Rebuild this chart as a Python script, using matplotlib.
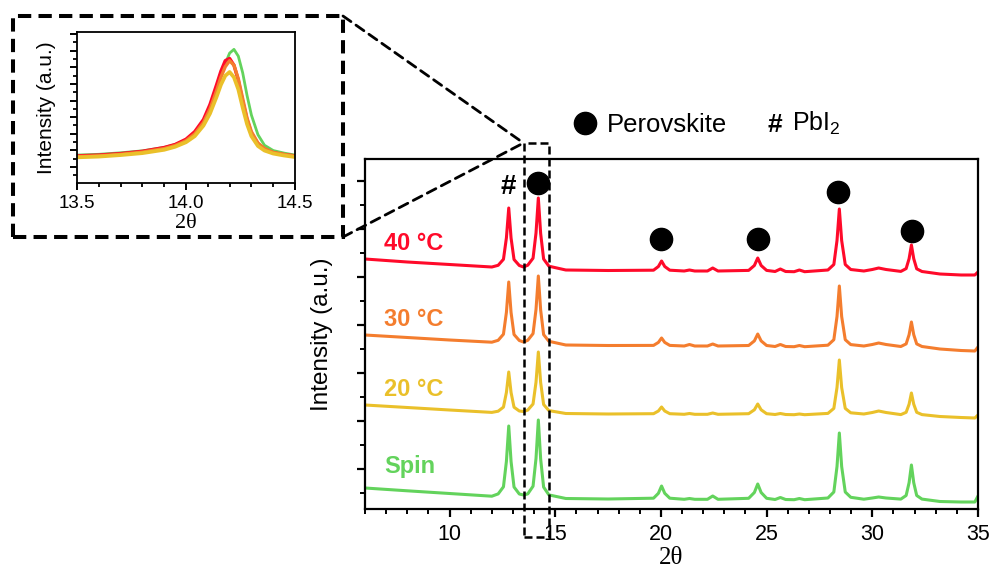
import numpy as np
import matplotlib.pyplot as plt
from matplotlib.patches import Rectangle, ConnectionPatch
from matplotlib.lines import Line2D
from matplotlib.ticker import MultipleLocator, FixedLocator

plt.rcParams['font.family'] = ['Liberation Sans', 'DejaVu Sans']
plt.rcParams['mathtext.fontset'] = 'custom'
plt.rcParams['mathtext.rm'] = 'Liberation Sans'
plt.rcParams['mathtext.it'] = 'Liberation Sans'

# ── données ────────────────────────────────────────────────
two_theta = [6.0, 8.0, 10.0, 12.0,
             12.30, 12.55, 12.69, 12.80, 12.91, 13.05, 13.30, 13.50,
             13.70, 13.95, 14.09, 14.20, 14.31, 14.45, 14.70,
             15.5, 17.5,
             19.65, 19.88, 20.03, 20.18, 20.42,
             21.1, 21.35, 21.6, 22.2, 22.45, 22.7,
             24.15, 24.42, 24.58, 24.74, 25.0,
             25.4, 25.65, 25.9, 26.3, 26.55, 26.8,
             27.9, 28.18, 28.33, 28.44, 28.55, 28.72, 28.98,
             29.6, 30.0, 30.3, 30.65,
             31.35, 31.60, 31.74, 31.85, 31.96, 32.10, 32.35,
             33.2, 34.2, 34.85, 35.0]

i_40 = [13, 10, 7.5, 5,
        6.7, 12.7, 34.2, 64, 34, 12.5, 6.5, 5,
        6.8, 13.8, 39, 74, 38.5, 13, 5.8,
        2, 1.5,
        1.8, 5.5, 11, 5.5, 1.8,
        1, 2, 1, 1, 4, 1,
        1.6, 6.5, 14, 6.5, 1.6,
        0.5, 3, 0.5, 0.3, 2, 0.3,
        2, 7.5, 31.5, 63, 31.5, 7.5, 2.5,
        1, 2.5, 4, 2.5,
        0.6, 3.4, 13.3, 27, 13.3, 3.2, 0.5,
        -2, -3, -3, 0]

i_30 = [12, 9.5, 7, 4.8,
        6.7, 12.8, 34.7, 65, 34.5, 12.5, 6.5, 5,
        6.7, 13.4, 37.5, 71, 37, 12.4, 5.7,
        2, 1.5,
        1.6, 4.6, 9, 4.6, 1.6,
        1, 2.5, 1, 1, 3, 1,
        1.5, 6.1, 13, 6.1, 1.5,
        0.5, 2.5, 0.5, 0.3, 1.5, 0.3,
        1.8, 7.3, 30.5, 61, 30.5, 7.3, 2.4,
        1, 2.5, 4, 2.5,
        0.5, 3.1, 12.3, 25, 12.3, 3.1, 0.5,
        -2, -3.5, -4, 0]

i_20 = [10, 7.5, 5, 2.6,
        3.8, 7.9, 22.6, 43, 22.5, 7.8, 4, 3.5,
        4.9, 11, 32.8, 63, 32.5, 10.5, 4.4,
        1.5, 1,
        1.3, 4, 8, 4, 1.3,
        0.7, 1.5, 0.7, 0.7, 2, 0.7,
        1.3, 5.2, 11, 5.2, 1.3,
        0.5, 1.5, 0.5, 0.3, 1, 0.3,
        1.6, 6.6, 27.5, 55, 27.5, 6.6, 2.2,
        1, 2.5, 4, 2.5,
        0.4, 2.7, 10.8, 22, 10.8, 2.7, 0.4,
        -1.5, -2.5, -3, 0]

i_spin = [12, 9.2, 6.5, 3.8,
          6.1, 13.2, 38.7, 74, 38.5, 13, 6, 5,
          6.1, 13.8, 41.5, 80, 41, 12.9, 5.1,
          1.5, 1,
          1.8, 6.7, 14, 6.7, 1.8,
          0.7, 1.5, 0.7, 0.7, 4, 0.7,
          1.7, 7.5, 16, 7.5, 1.7,
          0.5, 2.5, 0.5, 0.3, 1.5, 0.3,
          2, 8, 33.5, 67, 33.5, 8, 2.7,
          0.8, 2, 3, 2,
          0.9, 4.5, 17.3, 35, 17.3, 4.5, 0.9,
          -1.5, -2, -2, 4]

labels  = ['40 °C', '30 °C', '20 °C', 'Spin']
colors  = ['#ff0a2a', '#f47d2e', '#eac02a', '#63d35c']
offsets = [237, 162, 94, 9]
series  = [i_40, i_30, i_20, i_spin]

# pics pérovskite / PbI2
perov_x = [14.2, 20.0, 24.6, 28.4, 31.9]
perov_y = [326, 270, 270, 317, 278]
pbi2_x, pbi2_y = 12.77, 322

# zoom (encart)
tt_zoom = [13.5, 13.6, 13.7, 13.8, 13.9, 13.95, 14.0, 14.04, 14.08, 14.11,
           14.14, 14.16, 14.18, 14.2, 14.22, 14.24, 14.26, 14.28, 14.3,
           14.33, 14.36, 14.4, 14.45, 14.5]
z_40   = [.18, .185, .195, .21, .235, .255, .29, .34, .42, .52, .65, .74,
          .81, .825, .78, .68, .54, .42, .33, .26, .225, .20, .188, .18]
z_30   = [.175, .18, .19, .205, .228, .248, .28, .325, .40, .49, .61, .70,
          .77, .81, .78, .69, .56, .43, .34, .265, .228, .203, .19, .178]
z_20   = [.17, .175, .185, .198, .22, .24, .27, .31, .38, .46, .57, .65,
          .71, .735, .70, .62, .50, .39, .31, .245, .215, .195, .182, .172]
z_spin = [.185, .19, .20, .213, .236, .255, .285, .33, .40, .49, .61, .70,
          .79, .86, .885, .84, .73, .58, .45, .32, .25, .215, .198, .185]

# ── figure ────────────────────────────────────────────────
fig = plt.figure(figsize=(9.9, 5.67), dpi=100)
ax = fig.add_axes([365/990, 1 - 509/567, 613/990, 350/567])

for s, off, c in zip(series, offsets, colors):
    ax.plot(two_theta, np.array(s) + off, color=c, lw=2.2,
            solid_joinstyle='round', solid_capstyle='round')

lab_y = [265, 190, 120, 43]
for lab, c, ly in zip(labels, colors, lab_y):
    ax.text(6.9, ly, lab, color=c, fontsize=17, fontweight='bold', va='center')

ax.plot(perov_x, perov_y, 'o', color='k', ms=16, clip_on=False)
ax.text(pbi2_x, pbi2_y, '#', fontsize=20, fontweight='bold', ha='center', va='center')

ax.set_xlim(6, 35)
ax.set_ylim(0, 350)
ax.xaxis.set_major_locator(FixedLocator([10, 15, 20, 25, 30, 35]))
ax.xaxis.set_minor_locator(MultipleLocator(1))
ax.yaxis.set_major_locator(FixedLocator(np.arange(40, 350, 48)))
ax.yaxis.set_minor_locator(FixedLocator(np.arange(16, 350, 48)))
ax.set_yticklabels([])
ax.tick_params(which='major', length=6, width=1.6, labelsize=15.5, pad=5)
ax.tick_params(which='minor', length=3.5, width=1.4)
for sp in ax.spines.values():
    sp.set_linewidth(1.6)
ax.set_ylabel('Intensity (a.u.)', fontsize=17.5, labelpad=12)
ax.set_xlabel('2θ', fontsize=18, family=['Liberation Serif', 'DejaVu Serif'], labelpad=1)

# légende en haut
leg = ax.legend(handles=[Line2D([], [], marker='o', ls='', color='k', ms=16)],
                labels=['Perovskite'], loc='center left', frameon=False,
                bbox_to_anchor=(557/990, 1 - 125/567), bbox_transform=fig.transFigure,
                fontsize=18.5, handletextpad=0.25, borderpad=0, handlelength=1.2)
fig.text(767/990, 1 - 125/567, '#', fontsize=19, fontweight='bold', va='center')
fig.text(792/990, 1 - 123/567, 'PbI$_2$', fontsize=18, va='center')

# rectangle de zoom
ax.add_patch(Rectangle((13.5, -28), 1.2, 394, fill=False, lw=1.8,
                       ls=(0, (3.2, 1.6)), ec='k', clip_on=False, zorder=5))

# ── encart ───────────────────────────────────────────────
axi = fig.add_axes([77/990, 1 - 183/567, 218/990, 151/567])
for z, c, lw in zip([z_spin, z_40, z_30, z_20],
                    [colors[3], colors[0], colors[1], colors[2]],
                    [2.0, 2.4, 2.4, 2.7]):
    axi.plot(tt_zoom, z, color=c, lw=lw, solid_joinstyle='round')
axi.set_xlim(13.5, 14.5)
axi.set_ylim(0, 1)
axi.xaxis.set_major_locator(FixedLocator([13.5, 14.0, 14.5]))
axi.xaxis.set_major_formatter(plt.FuncFormatter(lambda v, p: f'{v:.1f}'))
axi.xaxis.set_minor_locator(MultipleLocator(0.1))
axi.yaxis.set_major_locator(FixedLocator(np.arange(0.106, 1, 0.11)))
axi.yaxis.set_minor_locator(FixedLocator(np.arange(0.051, 1, 0.11)))
axi.set_yticklabels([])
axi.tick_params(which='major', length=5, width=1.4, labelsize=13.5, pad=4)
axi.tick_params(which='minor', length=3, width=1.3)
for sp in axi.spines.values():
    sp.set_linewidth(1.3)
axi.set_ylabel('Intensity (a.u.)', fontsize=15, labelpad=6)
axi.set_xlabel('2θ', fontsize=16, family=['Liberation Serif', 'DejaVu Serif'], labelpad=1)

# cadre pointillé + lignes de liaison
fig.add_artist(Rectangle((13/990, 1 - 237/567), 330/990, 221/567, fill=False,
                         transform=fig.transFigure, lw=2.9, ls=(0, (3.3, 1.8)), ec='k'))
for yb in [16, 237]:
    cp = ConnectionPatch(xyA=(343/990, 1 - yb/567), coordsA=fig.transFigure,
                         xyB=(13.5, 366), coordsB=ax.transData,
                         lw=2.0, ls=(0, (3.5, 2.2)), color='k')
    fig.add_artist(cp)

plt.savefig('out.png', dpi=100)
